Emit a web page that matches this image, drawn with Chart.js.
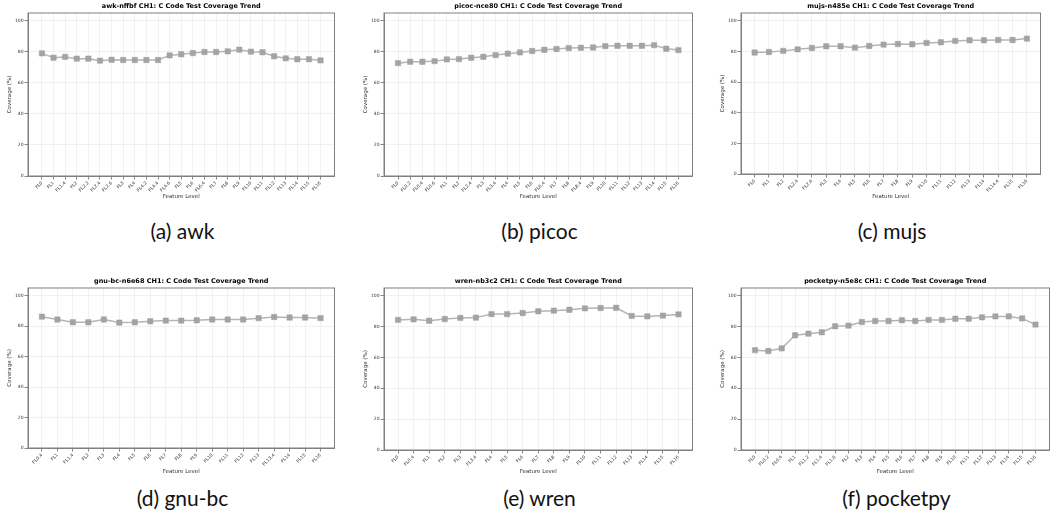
<!DOCTYPE html>
<html>
<head>
<meta charset="utf-8">
<script src="https://cdn.jsdelivr.net/npm/chart.js@4.4.0/dist/chart.umd.min.js"></script>
<style>
  html, body { margin: 0; padding: 0; background: #fff; }
  #page { position: relative; width: 1058px; height: 525px; overflow: hidden; }
  canvas { position: absolute; }
  .cap { position: absolute; font-family: Lato, "Noto Sans", sans-serif; font-size: 21px; color: #111;
         transform: translate(-50%, -50%); white-space: nowrap; }
</style>
</head>
<body>
<div id="page"></div>
<script>
// --- data ---
const yTicks = [0, 20, 40, 60, 80, 100];

const awkLabels = ['FL0','FL1','FL1.4','FL2','FL2.2','FL2.4','FL2.6','FL3','FL4','FL4.2','FL4.4','FL4.6','FL5','FL6','FL6.4','FL7','FL8','FL9','FL10','FL11','FL12','FL13','FL14','FL15','FL16'];
const awkValues = [79.0,76.2,76.7,75.6,75.6,74.3,74.9,74.7,74.7,74.7,74.7,77.7,78.4,79.2,79.9,79.9,80.3,81.4,80.1,79.7,77.1,75.8,75.2,75.2,74.5];

const picocLabels = ['FL0','FL0.2','FL0.4','FL0.6','FL1','FL2','FL2.4','FL3','FL3.4','FL4','FL5','FL6','FL6.4','FL7','FL8','FL8.4','FL9','FL10','FL11','FL12','FL13','FL14','FL15','FL16'];
const picocValues = [72.7,73.6,73.6,74.0,75.1,75.3,76.2,76.8,77.9,78.8,79.6,80.5,81.3,81.8,82.4,82.6,82.8,83.7,83.9,83.9,83.9,84.3,82.0,81.1];

const mujsLabels = ['FL0','FL1','FL2','FL2.4','FL2.6','FL3','FL4','FL5','FL6','FL7','FL8','FL9','FL10','FL11','FL12','FL13','FL14','FL14.4','FL15','FL16'];
const mujsValues = [79.2,79.6,80.3,81.3,82.2,83.3,83.3,82.4,83.5,84.4,84.8,84.6,85.5,85.9,86.8,87.2,87.2,87.4,87.4,88.3];

const gnubcLabels = ['FL0.4','FL1','FL1.4','FL2','FL3','FL4','FL5','FL6','FL7','FL8','FL9','FL10','FL11','FL12','FL13','FL13.4','FL14','FL15','FL16'];
const gnubcValues = [86.2,84.3,82.5,82.5,84.3,82.3,82.5,83.2,83.6,83.6,83.8,84.3,84.3,84.3,85.2,86.0,85.6,85.6,85.2];

const wrenLabels = ['FL0','FL0.4','FL1','FL2','FL3','FL3.4','FL4','FL5','FL6','FL7','FL8','FL9','FL10','FL11','FL12','FL13','FL14','FL15','FL16'];
const wrenValues = [84.3,84.7,83.8,84.9,85.6,85.8,88.1,88.1,88.8,89.9,90.3,90.9,91.8,92.0,92.2,86.9,86.6,87.1,87.9];

const pocketpyLabels = ['FL0','FL0.2','FL0.4','FL1','FL1.2','FL1.4','FL1.6','FL2','FL3','FL4','FL5','FL6','FL7','FL8','FL9','FL10','FL11','FL12','FL13','FL14','FL15','FL16'];
const pocketpyValues = [64.7,64.2,65.9,74.4,75.4,76.3,80.2,80.6,83.0,83.6,83.6,84.1,83.6,84.3,84.3,85.1,85.1,86.0,86.6,86.6,85.3,81.3];

const panels = [
  { name: 'awk-nffbf',     caption: '(a) awk',      labels: awkLabels,      values: awkValues },
  { name: 'picoc-nce80',   caption: '(b) picoc',    labels: picocLabels,    values: picocValues },
  { name: 'mujs-n485e',    caption: '(c) mujs',     labels: mujsLabels,     values: mujsValues },
  { name: 'gnu-bc-n6e68',  caption: '(d) gnu-bc',   labels: gnubcLabels,    values: gnubcValues },
  { name: 'wren-nb3c2',    caption: '(e) wren',     labels: wrenLabels,     values: wrenValues },
  { name: 'pocketpy-n5e8c',caption: '(f) pocketpy', labels: pocketpyLabels, values: pocketpyValues }
];

// --- where each plot box sits on the page ---
const boxes = [
  { l: 28,  r: 337,  t: 13,  b: 176, top: 0,   capY: 230 },
  { l: 384, r: 695,  t: 13,  b: 176, top: 0,   capY: 230 },
  { l: 741, r: 1043, t: 13,  b: 174, top: 0,   capY: 230 },
  { l: 28,  r: 337,  t: 288, b: 448, top: 275, capY: 497 },
  { l: 384, r: 695,  t: 288, b: 450, top: 275, capY: 497 },
  { l: 741, r: 1052, t: 288, b: 450, top: 275, capY: 497 }
];

const page = document.getElementById('page');
Chart.defaults.font.family = '"DejaVu Sans", sans-serif';

// matplotlib-like frame round the plot area
const frame = {
  id: 'frame',
  afterDraw(chart) {
    const a = chart.chartArea, ctx = chart.ctx;
    ctx.save();
    ctx.strokeStyle = '#808080';
    ctx.lineWidth = 1;
    ctx.strokeRect(a.left, a.top, a.right - a.left, a.bottom - a.top);
    ctx.restore();
  }
};

function makeChart(p, box) {
  const yw = 28, h = 205;
  const left = box.l - yw;
  const w = box.r - left + 2;

  const cv = document.createElement('canvas');
  cv.width = w; cv.height = h;
  cv.style.left = left + 'px';
  cv.style.top = box.top + 'px';
  page.appendChild(cv);

  const n = p.labels.length;
  const titleH = box.t - box.top;

  new Chart(cv, {
    type: 'line',
    data: {
      datasets: [{
        data: p.values.map((v, i) => ({ x: i, y: v })),
        borderColor: '#b5b5b5',
        borderWidth: 1.5,
        pointStyle: 'rect',
        pointRadius: 3.8,
        pointBackgroundColor: '#a3a3a3',
        pointBorderColor: '#a3a3a3',
        pointBorderWidth: 0.5,
        tension: 0
      }]
    },
    options: {
      responsive: false,
      animation: false,
      layout: { padding: { left: 0, right: 2, top: 0, bottom: 0 } },
      plugins: {
        legend: { display: false },
        tooltip: { enabled: false },
        title: {
          display: true,
          text: p.name + ' CH1: C Code Test Coverage Trend',
          fullSize: false,
          color: '#000',
          font: { size: 6.5, weight: 'bold', lineHeight: 1.2 },
          padding: { top: (titleH - 7.8) / 2, bottom: (titleH - 7.8) / 2 }
        }
      },
      scales: {
        x: {
          type: 'linear',
          min: -0.05 * (n - 1),
          max: 1.05 * (n - 1),
          afterBuildTicks: s => { s.ticks = p.labels.map((_, i) => ({ value: i })); },
          afterFit: s => { s.height = box.top + h - box.b; },
          ticks: {
            autoSkip: false, minRotation: 45, maxRotation: 45,
            font: { size: 4.5 }, color: '#333', padding: 1,
            callback: v => p.labels[v]
          },
          grid: { color: '#ebebeb', lineWidth: 0.7, tickColor: '#555', tickLength: 3.5 },
          border: { color: '#808080', width: 1 },
          title: { display: true, text: 'Feature Level', color: '#333',
                   font: { size: 5.5, lineHeight: 1.2 }, padding: { top: 0, bottom: 4.7 } }
        },
        y: {
          min: 0,
          max: 105,
          afterBuildTicks: s => { s.ticks = yTicks.map(v => ({ value: v })); },
          afterFit: s => { s.width = yw; },
          ticks: { font: { size: 4.5 }, color: '#333', padding: 1 },
          grid: { color: '#ebebeb', lineWidth: 0.7, tickColor: '#555', tickLength: 3.5 },
          border: { color: '#808080', width: 1 },
          title: { display: true, text: 'Coverage (%)', color: '#333',
                   font: { size: 5.5, lineHeight: 1.2 }, padding: { top: 6.7, bottom: 0 } }
        }
      }
    },
    plugins: [frame]
  });

  const cap = document.createElement('div');
  cap.className = 'cap';
  cap.textContent = p.caption;
  cap.style.left = ((box.l + box.r) / 2) + 'px';
  cap.style.top = box.capY + 'px';
  page.appendChild(cap);
}

panels.forEach((p, i) => makeChart(p, boxes[i]));
</script>
</body>
</html>
